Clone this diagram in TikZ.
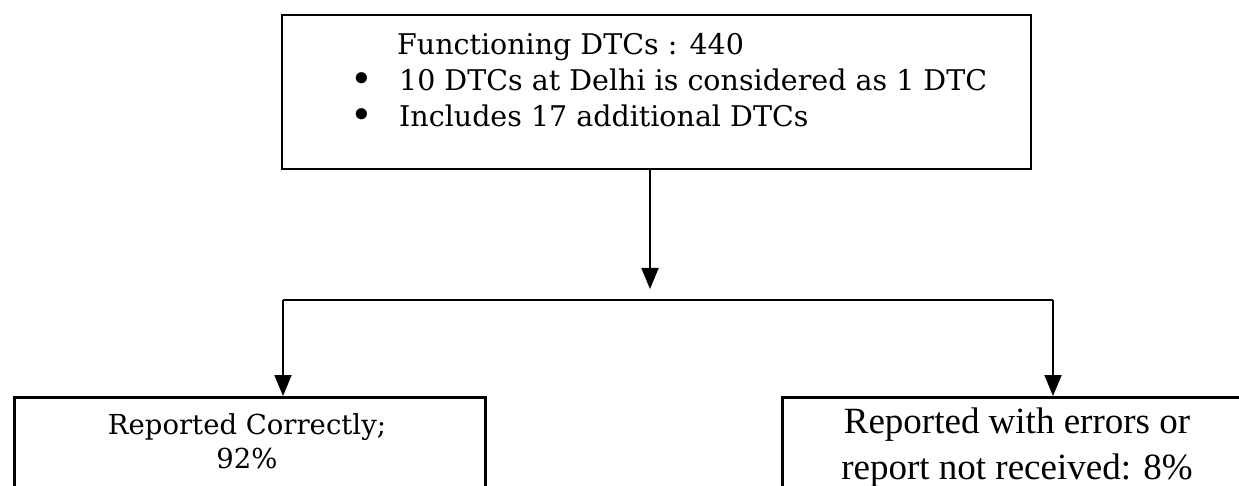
\documentclass[tikz,border=0pt]{standalone}
\usepackage{fontspec}
\newfontfamily\boxfont{DejaVu Serif}
\newfontfamily\timesfont{Liberation Serif}
\usetikzlibrary{arrows.meta}

\newcommand{\itemdot}{\makebox[51pt][l]{\hspace*{2pt}\raisebox{-2.5pt}{\scalebox{1.35}{•}}}}

\begin{document}
\begin{tikzpicture}[x=1pt,y=-1pt,
  box/.style={draw,line width=2.6pt,inner sep=0pt},
  link/.style={line width=1.8pt},
  arr/.style={link,-{Triangle[length=21pt,width=17pt]}}]

\useasboundingbox (0,0) rectangle (1239,486);
\clip (0,0) rectangle (1239,486);

% top box
\node[box,minimum width=749pt,minimum height=154pt] (total) at (656.5,92) {};
\node[anchor=west,inner sep=0pt,align=left,font=\boxfont\fontsize{28.5}{36}\selectfont] (totaltext) at (348,81)
  {\hspace*{49pt}Functioning DTCs : 440\\
   \itemdot 10 DTCs at Delhi is considered as 1 DTC\\
   \itemdot Includes 17 additional DTCs};

% split
\coordinate (split) at (650,300);
\coordinate (okfork) at (283,300);
\coordinate (errfork) at (1053,300);

% left
\node[box,anchor=north west,minimum width=471pt,minimum height=150pt] (okbox) at (13,396) {};
\node[inner sep=0pt,align=center,font=\boxfont\fontsize{27.5}{34}\selectfont] (oktext) at (247,441)
  {Reported Correctly;\\92\%};

% right
\node[box,anchor=north west,minimum width=480pt,minimum height=150pt] (errbox) at (781,396) {};
\node[inner sep=0pt,align=center,font=\timesfont\fontsize{37}{46}\selectfont] (errtext) at (1017,448)
  {Reported with errors or\\report not received: 8\%};

\draw[arr,shorten >=11pt] (total.south -| split) -- (split);
\draw[link] (okfork) -- (errfork);
\draw[arr] (okfork) -- (okfork |- okbox.north);
\draw[arr] (errfork) -- (errfork |- errbox.north);
\end{tikzpicture}
\end{document}
